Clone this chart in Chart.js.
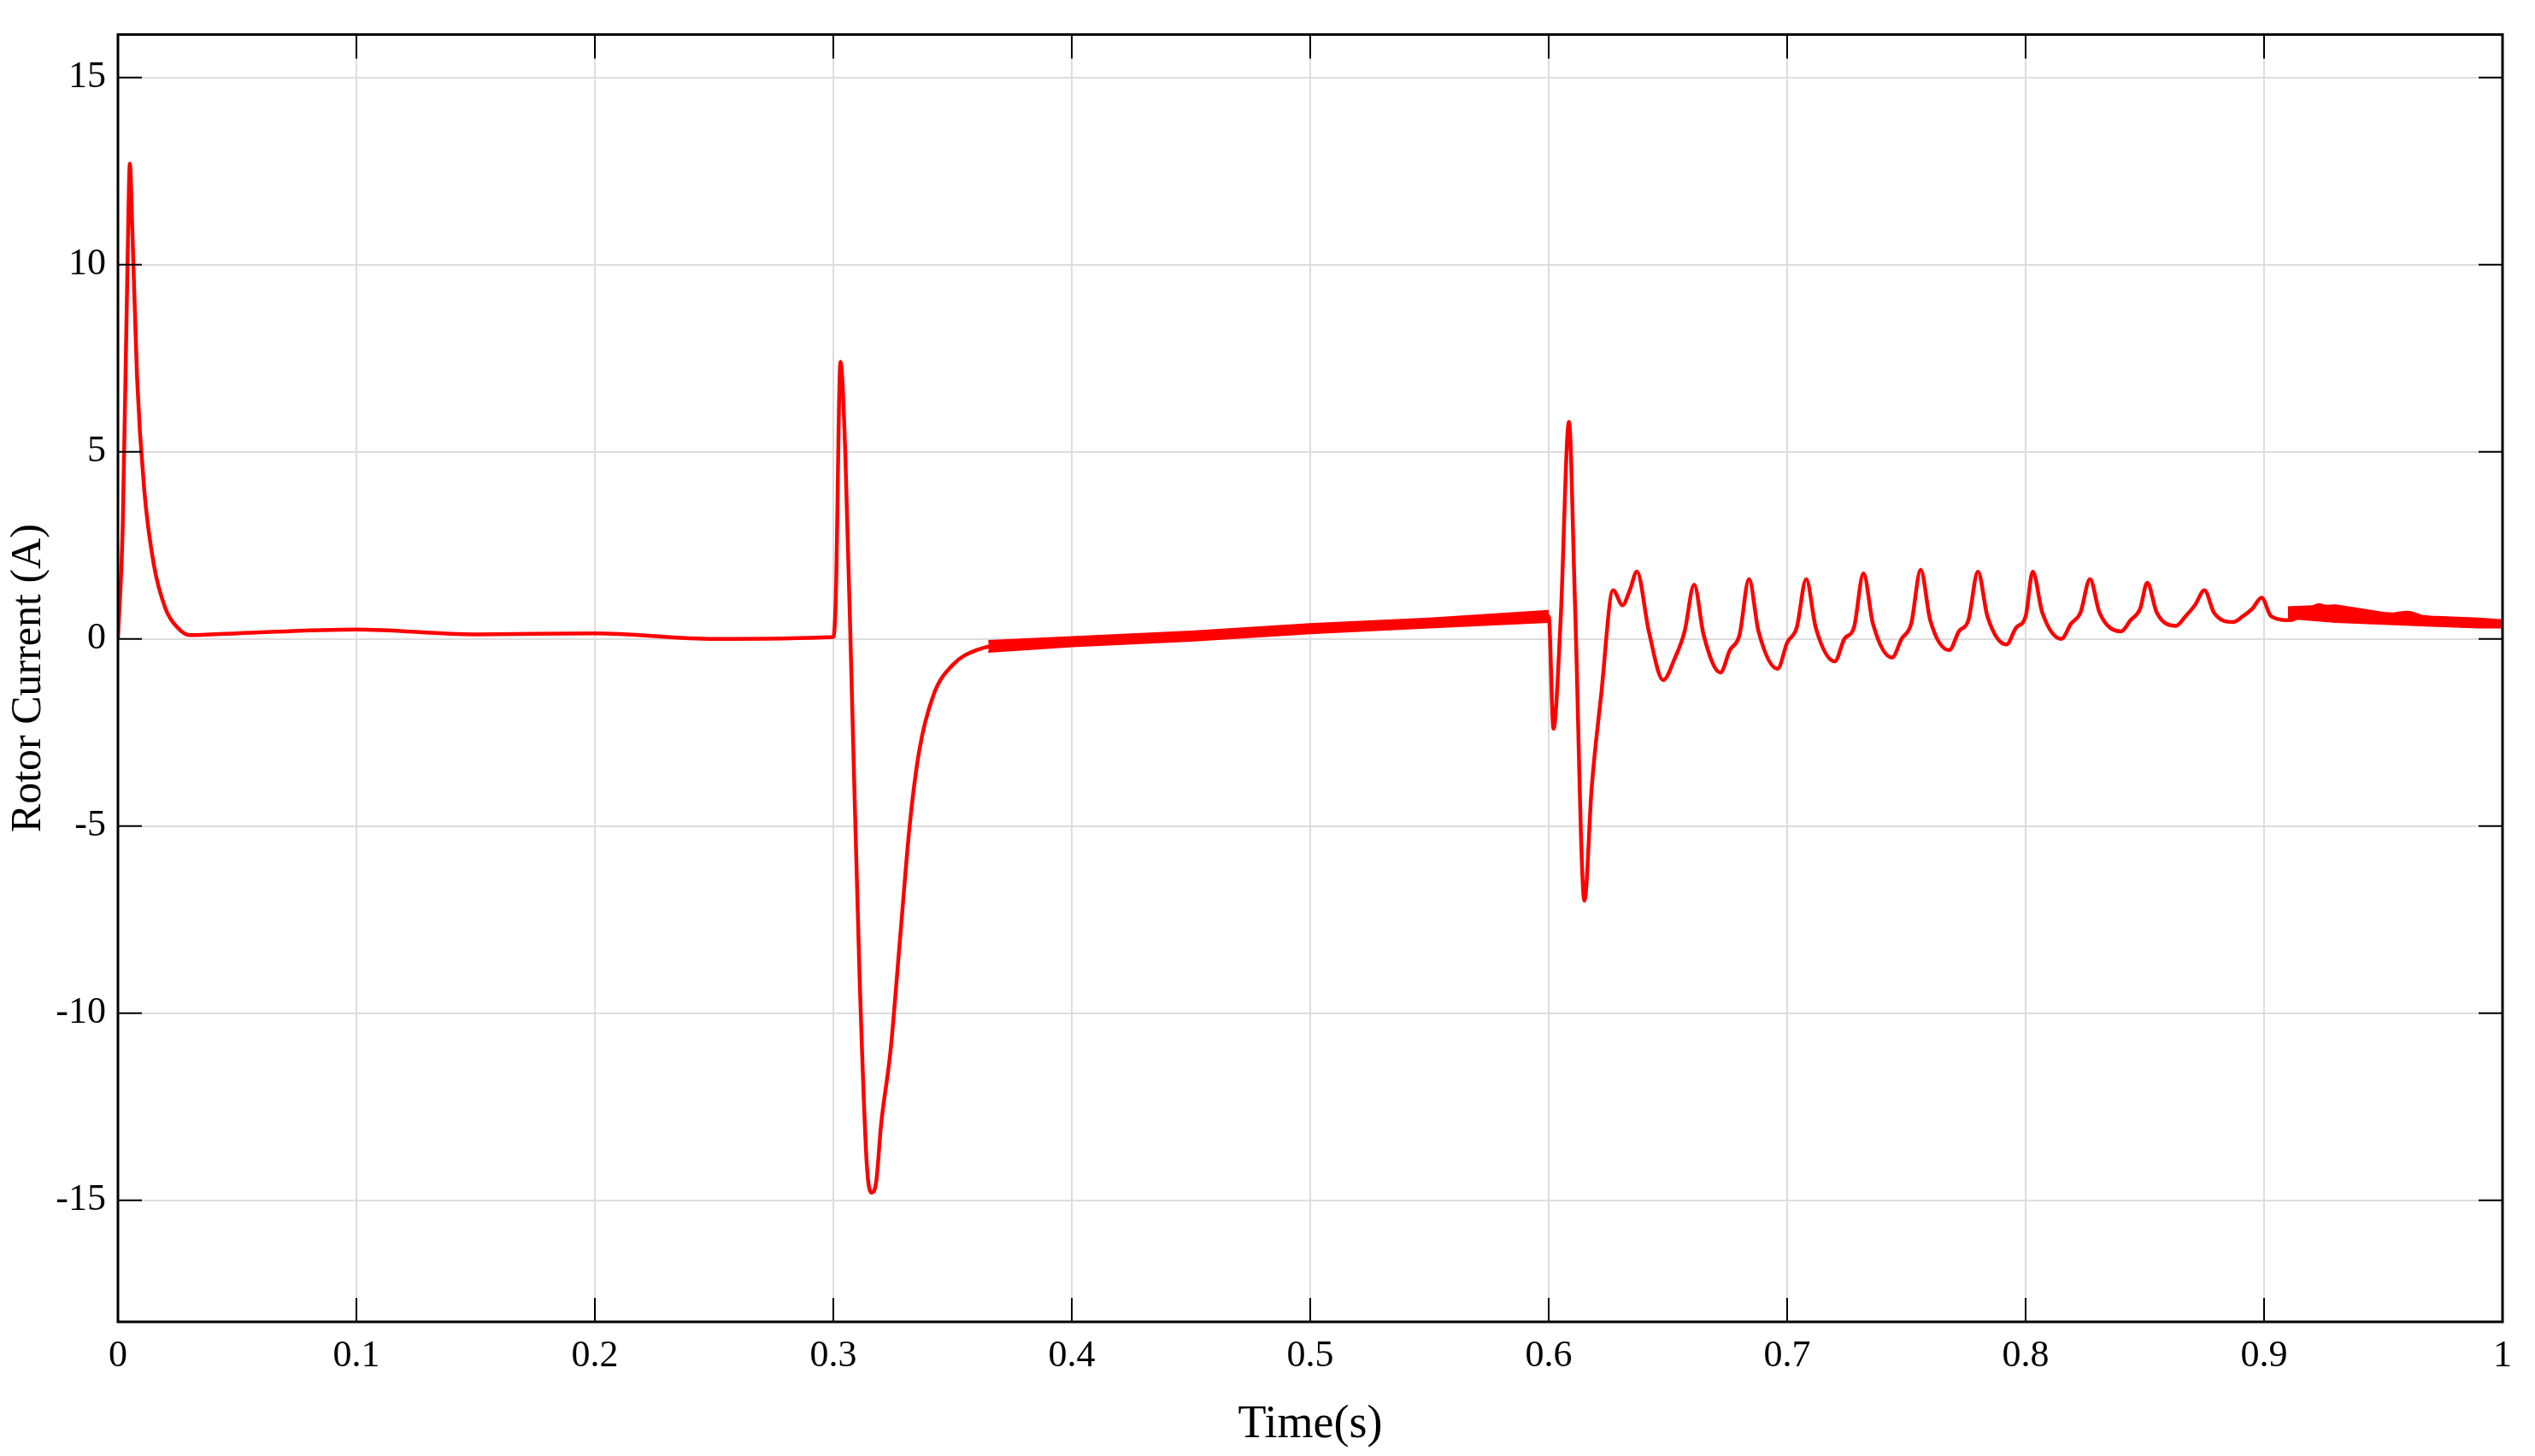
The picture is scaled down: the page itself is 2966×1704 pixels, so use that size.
<!DOCTYPE html>
<html><head><meta charset="utf-8">
<script src="https://cdn.jsdelivr.net/npm/chart.js@4.4.0/dist/chart.umd.min.js"></script>
<style>html,body{margin:0;padding:0;background:#fff}#wrap{width:2966px;height:1704px}</style>
</head><body><div id="wrap"><canvas id="c"></canvas></div>
<script>
// time (s) and rotor current (A)
const timeS = [0,0.002,0.004,0.005,0.006,0.008,0.011,0.015,0.02,0.025,0.03,0.05,0.1,0.15,0.2,0.25,0.3,
  0.301,0.303,0.305,0.308,0.311,0.314,0.316,0.318,0.32,0.324,0.328,0.332,0.336,0.342,0.35,0.36,0.38,0.4,0.45,0.5,0.55,0.6,
  0.602,0.605,0.6085,0.611,0.615,0.618,0.622,0.627,0.631,0.634,0.637,0.642,0.648,0.653,0.657,0.661,0.665,0.672,0.676,0.68,0.684,0.688,0.696,0.7,0.704,0.708,0.712,0.72,0.724,0.728,0.732,0.736,0.744,0.748,0.752,0.756,0.76,0.768,0.772,0.776,0.78,0.784,0.792,0.796,0.8,0.803,0.807,0.815,0.819,0.823,0.827,0.831,0.84,0.844,0.848,0.851,0.855,0.863,0.867,0.871,0.875,0.879,0.887,0.891,0.895,0.899,0.903,0.911,0.917,0.923,0.93,0.94,0.95,0.96,0.97,0.98,0.99,1.0];
const current = [0,3,10,12.7,11,7,4,2,0.8,0.3,0.1,0.15,0.25,0.12,0.15,0.0,0.05,
  1,7.4,5,-2,-9,-14,-14.8,-14.5,-13,-11,-8,-5,-3,-1.5,-0.7,-0.3,-0.1,-0.05,0.1,0.3,0.45,0.6,
  -2.4,0.5,5.8,1,-7,-4,-1.5,1.3,0.9,1.3,1.8,0.2,-1.1,-0.5,0.2,1.45,0.1,-0.9,-0.3,0.1,1.6,0.2,-0.8,-0.1,0.3,1.6,0.3,-0.6,0,0.3,1.75,0.4,-0.5,0,0.4,1.85,0.5,-0.3,0.2,0.5,1.8,0.6,-0.15,0.3,0.6,1.8,0.7,0,0.4,0.7,1.6,0.7,0.2,0.5,0.8,1.5,0.7,0.35,0.6,0.9,1.3,0.7,0.45,0.6,0.8,1.1,0.6,0.5,0.7,0.9,0.7,0.5,0.6,0.7,0.5,0.45,0.5,0.4,0.4];
// ripple envelopes (thick bands)
const rippleT = [0.365,0.4,0.45,0.5,0.55,0.6];
const rippleHi = [-0.05,0.05,0.2,0.4,0.55,0.75];
const rippleLo = [-0.35,-0.2,-0.05,0.15,0.3,0.45];
const tailT = [0.91,0.93,0.95,0.97,0.99,1.0];
const tailHi = [0.85,0.9,0.7,0.6,0.55,0.5];
const tailLo = [0.55,0.45,0.4,0.35,0.3,0.3];
const yTicks = [-15,-10,-5,0,5,10,15];

const pts = (xs, ys) => xs.map((x, i) => ({x: x, y: ys[i]}));
const F = '"Liberation Serif", "DejaVu Serif", serif';
const band = (xs, hi, lo) => [
  {data: pts(xs, hi), borderColor: '#ff0000', borderWidth: 2, pointRadius: 0, fill: '+1', backgroundColor: '#ff0000', tension: 0},
  {data: pts(xs, lo), borderColor: '#ff0000', borderWidth: 2, pointRadius: 0, fill: false, tension: 0}
];

const inTicks = {
  id: 'inTicks',
  afterDatasetsDraw(chart) {
    const {ctx, chartArea: a, scales: {x, y}} = chart;
    ctx.save();
    ctx.strokeStyle = '#000'; ctx.lineWidth = 2;
    x.ticks.forEach(t => { const px = x.getPixelForValue(t.value);
      ctx.beginPath(); ctx.moveTo(px, a.bottom); ctx.lineTo(px, a.bottom - 28); ctx.moveTo(px, a.top); ctx.lineTo(px, a.top + 28); ctx.stroke(); });
    y.ticks.forEach(t => { const py = y.getPixelForValue(t.value);
      ctx.beginPath(); ctx.moveTo(a.left, py); ctx.lineTo(a.left + 28, py); ctx.moveTo(a.right, py); ctx.lineTo(a.right - 28, py); ctx.stroke(); });
    ctx.lineWidth = 3;
    ctx.strokeRect(a.left, a.top, a.right - a.left, a.bottom - a.top);
    ctx.restore();
  }
};

new Chart(document.getElementById('c'), {
  type: 'line',
  data: {
    datasets: [
      ...band(rippleT, rippleHi, rippleLo),
      ...band(tailT, tailHi, tailLo),
      {data: pts(timeS, current), borderColor: '#ff0000', borderWidth: 4.5, pointRadius: 0, fill: false, tension: 0.3, cubicInterpolationMode: 'monotone'}
    ]
  },
  options: {
    responsive: true, maintainAspectRatio: false, animation: false,
    devicePixelRatio: 1,
    layout: {padding: {top: 4, right: 38, left: 0, bottom: 0}},
    plugins: {legend: {display: false}, tooltip: {enabled: false}},
    scales: {
      x: {type: 'linear', min: 0, max: 1,
        ticks: {stepSize: 0.1, color: '#000', font: {family: F, size: 44}, padding: 14,
          callback: v => (Math.round(v * 10) / 10).toString()},
        grid: {color: '#dddddd', lineWidth: 2, drawTicks: false},
        border: {display: false},
        title: {display: true, text: 'Time(s)', color: '#000', font: {family: F, size: 54}, padding: {top: 0}},
        afterFit(s) { s.height = 157; }
      },
      y: {min: -18.25, max: 16.15,
        afterBuildTicks(s) { s.ticks = yTicks.map(v => ({value: v})); },
        ticks: {color: '#000', font: {family: F, size: 44}, padding: 14},
        grid: {color: '#dddddd', lineWidth: 2, drawTicks: false},
        border: {display: false},
        title: {display: true, text: 'Rotor Current (A)', color: '#000', font: {family: F, size: 50}, padding: {bottom: 0}},
        afterFit(s) { s.width = 138; }
      }
    }
  },
  plugins: [inTicks]
});
</script></body></html>
